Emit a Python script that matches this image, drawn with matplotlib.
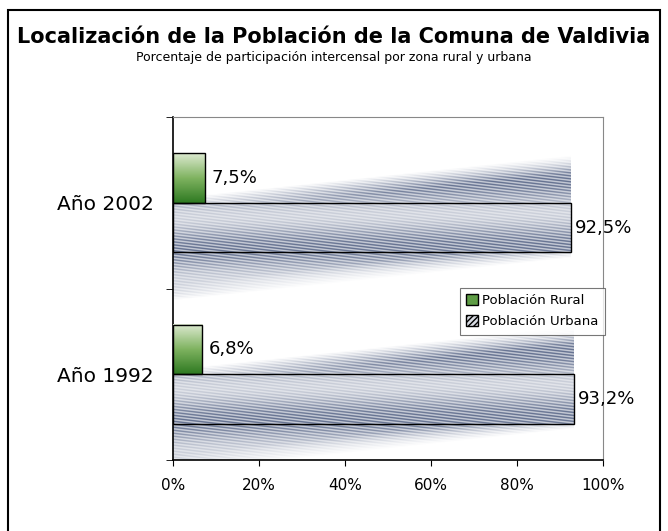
import numpy as np
import matplotlib.pyplot as plt
from matplotlib.patches import Rectangle, Patch
from matplotlib.colors import LinearSegmentedColormap

# data
years = ['Año 1992', 'Año 2002']
rural = [6.8, 7.5]
urbana = [93.2, 92.5]
xticks = [0, 20, 40, 60, 80, 100]

W, H = 668, 531
fig = plt.figure(figsize=(W / 100, H / 100), dpi=100)
plt.rcParams['font.family'] = ['DejaVu Sans']

# outer frame
fig.patches.append(Rectangle((8 / W, -0.05), 652 / W, 1.05 - 10 / H,
                             transform=fig.transFigure, fill=False,
                             edgecolor='black', linewidth=1.5))

fig.text(0.5, 1 - 37 / H, 'Localización de la Población de la Comuna de Valdivia',
         ha='center', va='center', fontsize=15, fontweight='bold')
fig.text(0.5, 1 - 58 / H, 'Porcentaje de participación intercensal por zona rural y urbana',
         ha='center', va='center', fontsize=9)

ax = fig.add_axes([173 / W, 1 - 460 / H, 430 / W, 343 / H])
ax.set_xlim(0, 100)
ax.set_ylim(-0.5, 1.5)

bh = 0.29
green = LinearSegmentedColormap.from_list('g', ['#2f7a22', '#7fb360', '#dce9d0'])
# px per data unit
sx, sy = 4.3, 171.5

for i in range(len(years)):
    # rural bar with vertical gradient
    y0 = i
    grad = np.linspace(0, 1, 64).reshape(-1, 1)
    ax.imshow(grad, extent=(0, rural[i], y0, y0 + bh), origin='lower',
              cmap=green, aspect='auto', zorder=3)
    ax.add_patch(Rectangle((0, y0), rural[i], bh, fill=False,
                           edgecolor='black', linewidth=1, zorder=4))
    ax.text(rural[i] + 1.5, y0 + bh / 2, f'{rural[i]:.1f}%'.replace('.', ','),
            va='center', ha='left', fontsize=13)

    # urban bar with striped texture spilling around it
    yc = y0 - bh / 2
    val = urbana[i]
    nx, ny = int(round(val * sx)), int(round(1.2 * sy))
    xs = np.linspace(0, val, nx)
    ys = np.linspace(yc - 0.6, yc + 0.6, ny)
    X, Y = np.meshgrid(xs, ys)
    slope = 0.0027
    v = (Y - (yc + slope * (X - val / 2))) / 0.30
    px, py = X * sx, Y * sy
    fine = 0.5 + 0.5 * np.sin(2 * np.pi * (py + 0.12 * px) / 3.0)
    broad = 0.5 + 0.5 * np.cos(np.pi * (v * 1.6 + 0.003 * px))
    shade = 0.12 + 0.88 * (0.25 + 0.75 * broad) * (0.3 + 0.7 * fine)
    alpha = np.clip((1 - np.abs(v)) * 3, 0, 1)
    alpha[np.abs(v) > 1] = 0
    inside = (Y >= yc - bh / 2) & (Y <= yc + bh / 2)
    alpha[inside] = 1
    base = np.array([1.0, 1.0, 1.0])
    dark = np.array([0.40, 0.45, 0.57])
    rgba = np.zeros((ny, nx, 4))
    for c in range(3):
        rgba[..., c] = base[c] * (1 - shade) + dark[c] * shade
    rgba[..., 3] = alpha
    ax.imshow(rgba, extent=(0, val, yc - 0.6, yc + 0.6), origin='lower',
              aspect='auto', zorder=2, interpolation='nearest')
    ax.add_patch(Rectangle((0, yc - bh / 2), val, bh, fill=False,
                           edgecolor='black', linewidth=1, zorder=4))
    ax.text(val + 1, yc, f'{val:.1f}%'.replace('.', ','),
            va='center', ha='left', fontsize=13)

ax.set_xlim(0, 100)
ax.set_ylim(-0.5, 1.5)
ax.set_xticks(xticks)
ax.set_xticklabels([f'{t}%' for t in xticks], fontsize=11)
ax.set_yticks(range(len(years)))
ax.set_yticklabels(years, fontsize=14.5)
ax.set_yticks([-0.5, 0.5, 1.5], minor=True)
ax.tick_params(axis='y', which='major', length=0, pad=14)
ax.tick_params(axis='y', which='minor', length=5, direction='out')
ax.tick_params(axis='x', length=4, direction='out', pad=9)
for s in ['top', 'right']:
    ax.spines[s].set_color('#888888')
for s in ['left', 'bottom']:
    ax.spines[s].set_color('black')
    ax.spines[s].set_linewidth(1.2)

handles = [Patch(facecolor='#5e9c45', edgecolor='black', label='Población Rural'),
           Patch(facecolor='#d8dbe3', edgecolor='black', hatch='//////',
                 label='Población Urbana')]
leg = fig.legend(handles=handles, loc='upper left', bbox_to_anchor=(453 / W, 1 - 281 / H),
                 fontsize=9.5, frameon=True, fancybox=False, handlelength=0.9,
                 handleheight=0.9, handletextpad=0.3, borderpad=0.5, labelspacing=0.6)
leg.get_frame().set_edgecolor('#555555')
leg.get_frame().set_linewidth(0.8)

fig.savefig('out.png', dpi=100)
